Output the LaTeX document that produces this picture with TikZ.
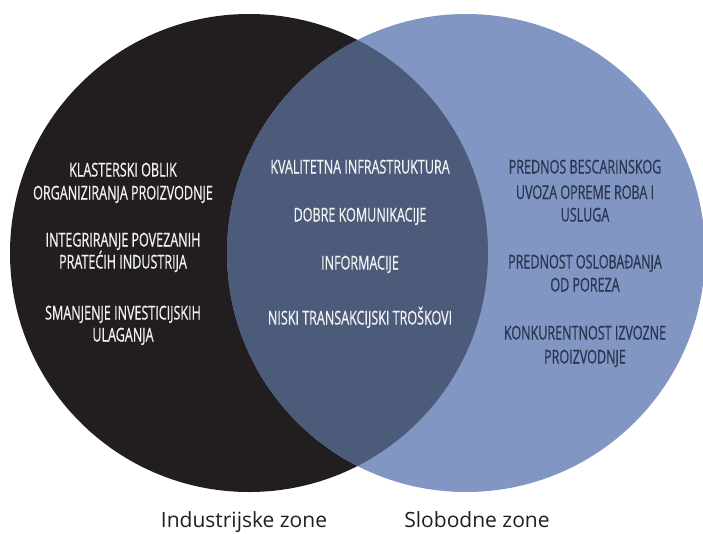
\documentclass[tikz,border=0pt]{standalone}
\usepackage{fontspec}
\setmainfont{Open Sans}
\newfontfamily\condfont[FakeStretch=0.66,FakeBold=0.6]{Open Sans}
\definecolor{zblack}{HTML}{221E1F}
\definecolor{zblue}{HTML}{8196C2}
\definecolor{zmix}{HTML}{4B5B79}
\definecolor{ztxtdark}{HTML}{2B3552}
\definecolor{ztxtlight}{HTML}{F2F2F2}
\tikzset{
  itemw/.style={anchor=base, text=ztxtlight, font=\condfont\fontsize{19}{22}\selectfont, inner sep=0pt},
  itemd/.style={anchor=base, text=ztxtdark, font=\condfont\fontsize{19}{22}\selectfont, inner sep=0pt},
  zlabel/.style={anchor=base, text=zblack, font=\fontsize{21}{24}\selectfont, inner sep=0pt}
}
\begin{document}
\begin{tikzpicture}[x=1pt,y=-1pt]
\useasboundingbox (0,0) rectangle (703,533);
\fill[zblack] (249,253) circle (239);
\fill[zblue] (466,253) circle (239);
\begin{scope}
  \clip (249,253) circle (239);
  \fill[zmix] (466,253) circle (239);
\end{scope}
% left
\node[itemw] (l1a) at (123,176.5) {KLASTERSKI OBLIK};
\node[itemw] (l1b) at (123,199.5) {ORGANIZIRANJA PROIZVODNJE};
\node[itemw] (l2a) at (123,246.5) {INTEGRIRANJE POVEZANIH};
\node[itemw] (l2b) at (123,268.5) {PRATEĆIH INDUSTRIJA};
\node[itemw] (l3a) at (123,319.5) {SMANJENJE INVESTICIJSKIH};
\node[itemw] (l3b) at (123,341.5) {ULAGANJA};
% center
\node[itemw] (c1) at (360,173.5) {KVALITETNA INFRASTRUKTURA};
\node[itemw] (c2) at (360,221.5) {DOBRE KOMUNIKACIJE};
\node[itemw] (c3) at (360,269.5) {INFORMACIJE};
\node[itemw] (c4) at (360,324.5) {NISKI TRANSAKCIJSKI TROŠKOVI};
% right
\node[itemd] (r1a) at (585,173.5) {PREDNOS BESCARINSKOG};
\node[itemd] (r1b) at (585,199) {UVOZA OPREME ROBA I};
\node[itemd] (r1c) at (585,221.5) {USLUGA};
\node[itemd] (r2a) at (585,268.5) {PREDNOST OSLOBAĐANJA};
\node[itemd] (r2b) at (585,291.5) {OD POREZA};
\node[itemd] (r3a) at (585,339.5) {KONKURENTNOST IZVOZNE};
\node[itemd] (r3b) at (585,363.5) {PROIZVODNJE};
% labels
\node[zlabel] (lind) at (244,527) {Industrijske zone};
\node[zlabel] (lslo) at (477,527) {Slobodne zone};
\end{tikzpicture}
\end{document}
